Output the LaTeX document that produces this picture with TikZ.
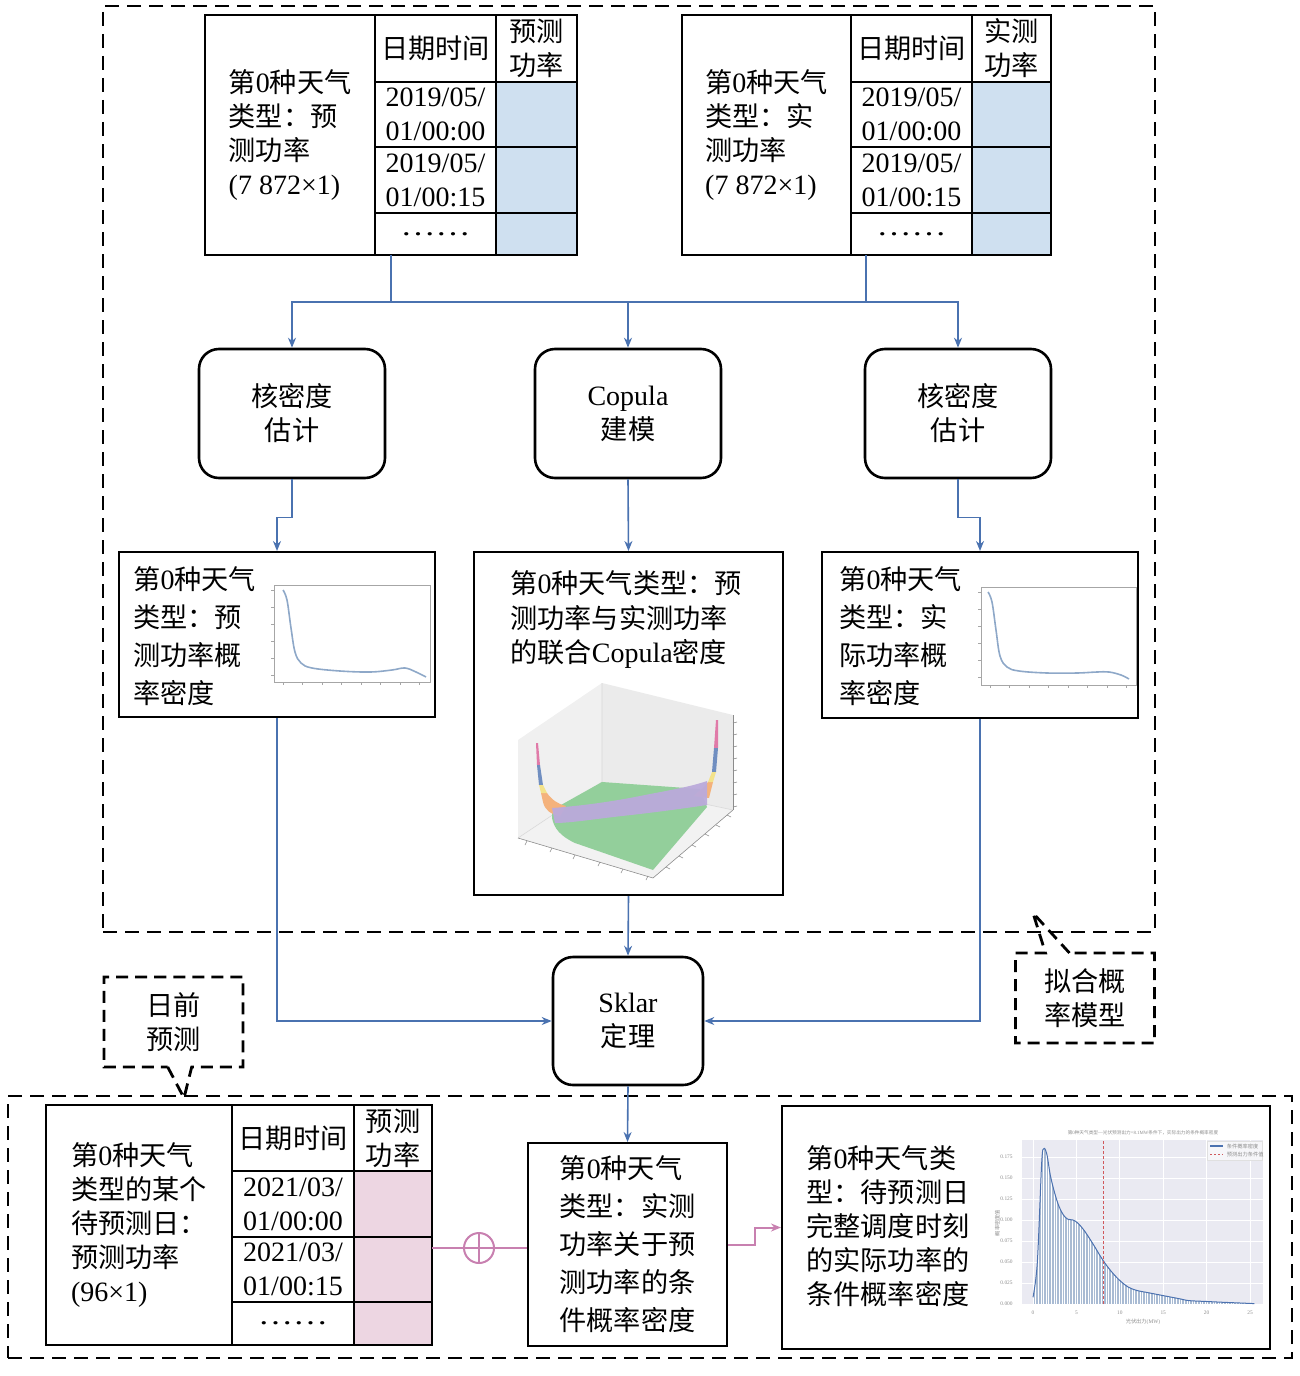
\documentclass[tikz,border=0pt]{standalone}
\usepackage{fontspec}
\setmainfont{Liberation Serif}
\newfontfamily\cjk[Scale=0.97]{Noto Sans CJK SC}
\usetikzlibrary{arrows.meta,shapes.callouts}

\XeTeXinterchartokenstate=1
\newXeTeXintercharclass\cjkclass
\newcount\cjkcode
\cjkcode="3000
\loop
  \XeTeXcharclass\cjkcode=\cjkclass
  \advance\cjkcode by 1
\ifnum\cjkcode<"A000 \repeat
\cjkcode="FF00
\loop
  \XeTeXcharclass\cjkcode=\cjkclass
  \advance\cjkcode by 1
\ifnum\cjkcode<"FFF0 \repeat
\XeTeXinterchartoks 0 \cjkclass={\cjk}
\XeTeXinterchartoks 4095 \cjkclass={\cjk}
\XeTeXinterchartoks \cjkclass 0={\rmfamily}
\XeTeXinterchartoks \cjkclass 4095={\rmfamily}

\definecolor{linkblue}{HTML}{4A72B0}
\definecolor{linkpink}{HTML}{C880B0}
\definecolor{cellblue}{HTML}{CFE0F0}
\definecolor{cellpink}{HTML}{EDD6E2}
\definecolor{curveblue}{HTML}{8EA8C8}
\definecolor{seabg}{HTML}{EAEAF2}
\definecolor{seabar}{HTML}{A9BBD3}
\definecolor{sealine}{HTML}{4C72B0}
\definecolor{seared}{HTML}{D0585C}
\definecolor{surfgreen}{HTML}{93CF9B}
\definecolor{surfpurple}{HTML}{BBAADB}
\definecolor{surforange}{HTML}{F4B27C}
\definecolor{surfpink}{HTML}{E07AA8}
\definecolor{surfyellow}{HTML}{F3E28A}

\begin{document}
\begin{tikzpicture}[x=0.5pt,y=-0.5pt,
  font=\fontsize{14}{17}\selectfont,
  wide/.style={font=\fontsize{14}{19}\selectfont},
  cell/.style={draw,line width=1.2pt,inner sep=0pt,align=center},
  lab/.style={draw,line width=.8pt,inner sep=0pt,align=left},
  proc/.style={draw,line width=1.3pt,rounded corners=10pt,minimum width=93pt,minimum height=64.5pt,align=center},
  panel/.style={draw,line width=1pt,inner sep=0pt},
  txt/.style={inner sep=0pt,align=left,anchor=west},
  group/.style={draw,dash pattern=on 7pt off 4pt,line width=1.4pt,inner sep=0pt},
  note/.style={rectangle callout,draw,dash pattern=on 6pt off 3.5pt,line width=1.4pt,inner sep=0pt,minimum width=69.5pt,minimum height=45pt,align=center,callout pointer width=12pt},
  link/.style={draw=linkblue,line width=.8pt},
  plink/.style={draw=linkpink,line width=1pt},
  flow/.style={-{Stealth[length=5pt,width=4pt]}},
  tinylabel/.style={font=\fontsize{2.7}{3}\selectfont,text=black!45,inner sep=0pt}]

\useasboundingbox (0,0) rectangle (1300,1376);

\node[group,minimum width=526pt,minimum height=463pt] (fitgroup) at (629,469) {};
\node[group,minimum width=642pt,minimum height=131pt] (predgroup) at (650,1227) {};

\node[note,callout absolute pointer={(184,1098)}] (dayahead) at (173.5,1022) {日前\\预测};
\node[note,callout absolute pointer={(1033,913)}] (fitnote) at (1085,998) {拟合概\\率模型};

\node[lab,minimum width=85pt,minimum height=120pt] (fclab) at (290,135) {第0种天气\\类型：预\\测功率\\(7 872×1)};
\node[cell,minimum width=60.5pt,minimum height=33.5pt] (fchead1) at (435.5,48.5) {日期时间};
\node[cell,minimum width=40.5pt,minimum height=33.5pt] (fchead2) at (536.5,48.5) {预测\\功率};
\node[cell,minimum width=60.5pt,minimum height=32.5pt] (fcrow1) at (435.5,114.5) {2019/05/\\01/00:00};
\node[cell,fill=cellblue,minimum width=40.5pt,minimum height=32.5pt] (fcval1) at (536.5,114.5) {};
\node[cell,minimum width=60.5pt,minimum height=33pt] (fcrow2) at (435.5,180) {2019/05/\\01/00:15};
\node[cell,fill=cellblue,minimum width=40.5pt,minimum height=33pt] (fcval2) at (536.5,180) {};
\node[cell,minimum width=60.5pt,minimum height=21pt] (fcrow3) at (435.5,234) {\scalebox{1.25}[1]{……}};
\node[cell,fill=cellblue,minimum width=40.5pt,minimum height=21pt] (fcval3) at (536.5,234) {};

\node[lab,minimum width=84.5pt,minimum height=120pt] (aclab) at (766.5,135) {第0种天气\\类型：实\\测功率\\(7 872×1)};
\node[cell,minimum width=60.5pt,minimum height=33.5pt] (achead1) at (911.5,48.5) {日期时间};
\node[cell,minimum width=39.5pt,minimum height=33.5pt] (achead2) at (1011.5,48.5) {实测\\功率};
\node[cell,minimum width=60.5pt,minimum height=32.5pt] (acrow1) at (911.5,114.5) {2019/05/\\01/00:00};
\node[cell,fill=cellblue,minimum width=39.5pt,minimum height=32.5pt] (acval1) at (1011.5,114.5) {};
\node[cell,minimum width=60.5pt,minimum height=33pt] (acrow2) at (911.5,180) {2019/05/\\01/00:15};
\node[cell,fill=cellblue,minimum width=39.5pt,minimum height=33pt] (acval2) at (1011.5,180) {};
\node[cell,minimum width=60.5pt,minimum height=21pt] (acrow3) at (911.5,234) {\scalebox{1.25}[1]{……}};
\node[cell,fill=cellblue,minimum width=39.5pt,minimum height=21pt] (acval3) at (1011.5,234) {};

\node[proc] (kdefc) at (292,413.5) {核密度\\估计};
\node[proc] (copula) at (628,413.5) {Copula\\建模};
\node[proc] (kdeac) at (958,413.5) {核密度\\估计};

\node[panel,minimum width=158pt,minimum height=82.5pt] (fcpdf) at (277,634.5) {};
\node[txt,wide] (fcpdftext) at (133,636.5) {第0种天气\\类型：预\\测功率概\\率密度};
\node[panel,minimum width=154.5pt,minimum height=171.5pt] (copdens) at (628.5,723.5) {};
\node[txt,font=\fontsize{14}{17.25}\selectfont] (copdenstext) at (510,619.5) {第0种天气类型：预\\测功率与实测功率\\的联合Copula密度};
\node[panel,minimum width=158pt,minimum height=83pt] (acpdf) at (980,635) {};
\node[txt,wide] (acpdftext) at (839,636.5) {第0种天气\\类型：实\\际功率概\\率密度};

\node[proc,minimum width=75pt,minimum height=64pt] (sklar) at (628,1021) {Sklar\\定理};

\node[lab,minimum width=93pt,minimum height=120pt] (dalab) at (139,1225) {第0种天气\\类型的某个\\待预测日：\\预测功率\\(96×1)};
\node[cell,minimum width=61pt,minimum height=33pt] (dahead1) at (293,1138) {日期时间};
\node[cell,minimum width=39pt,minimum height=33pt] (dahead2) at (393,1138) {预测\\功率};
\node[cell,minimum width=61pt,minimum height=33pt] (darow1) at (293,1204) {2021/03/\\01/00:00};
\node[cell,fill=cellpink,minimum width=39pt,minimum height=33pt] (daval1) at (393,1204) {};
\node[cell,minimum width=61pt,minimum height=32.5pt] (darow2) at (293,1269.5) {2021/03/\\01/00:15};
\node[cell,fill=cellpink,minimum width=39pt,minimum height=32.5pt] (daval2) at (393,1269.5) {};
\node[cell,minimum width=61pt,minimum height=21.5pt] (darow3) at (293,1323.5) {\scalebox{1.25}[1]{……}};
\node[cell,fill=cellpink,minimum width=39pt,minimum height=21.5pt] (daval3) at (393,1323.5) {};

\node[draw=linkpink,line width=1pt,circle,minimum size=15pt,inner sep=0pt,
  path picture={\draw[linkpink,line width=1pt] (path picture bounding box.north) -- (path picture bounding box.south)
    (path picture bounding box.west) -- (path picture bounding box.east);}] (oplus) at (479,1248) {};
\node[panel,wide,align=left,minimum width=99.5pt,minimum height=101.5pt] (condpdf) at (627.5,1244.5) {第0种天气\\类型：实测\\功率关于预\\测功率的条\\件概率密度};
\node[panel,minimum width=244pt,minimum height=121.5pt] (result) at (1026,1227.5) {};
\node[txt] (resulttext) at (806,1226.5) {第0种天气类\\型：待预测日\\完整调度时刻\\的实际功率的\\条件概率密度};

\coordinate (fctab) at (391,255);
\coordinate (actab) at (866,255);
\coordinate (busl) at (292,302);
\coordinate (busr) at (958,302);
\coordinate (dayin) at (432,1248);

\draw[link,flow] (fctab) |- (busl) -- (kdefc.north);
\draw[link,flow] (fctab) |- (busr) -- (kdeac.north);
\draw[link] (actab) |- (busl);
\draw[link,flow] (copula.north |- busl) -- (copula.north);
\draw[link,flow] (kdefc.south) -- ++(0,38) -| (fcpdf.north);
\draw[link,flow] (kdeac.south) -- ++(0,38) -| (acpdf.north);
\draw[link,flow] (copula.south) -- (copdens.north);
\draw[link,flow] (fcpdf.south) |- (sklar.west);
\draw[link,flow] (acpdf.south) |- (sklar.east);
\draw[link,flow] (copdens.south) -- (sklar.north);
\draw[link,flow] (sklar.south) -- (condpdf.north);
\draw[plink] (dayin) -- (oplus) -- (oplus -| condpdf.west);
\draw[plink,flow] (condpdf.east) -- ++(27,0) |- (result.west);

\begin{scope}[line width=.4pt]
\draw[black!35] (274,585) rectangle (430,682);
\foreach \k in {0,...,7} \draw[black!35] (283+19.5*\k,682) -- ++(0,3);
\foreach \k in {0,...,5} \draw[black!35] (274,590+17*\k) -- ++(-3,0);
\draw[curveblue,line width=.8pt] plot[smooth,tension=.6] coordinates {(283,590) (287,600) (291,628) (295,652) (301,663) (312,668) (340,671) (370,672) (392,670) (405,668) (416,672) (426,677)};
\end{scope}
\begin{scope}[shift={(707,2)},line width=.4pt]
\draw[black!35] (274,585) rectangle (429,683);
\foreach \k in {0,...,7} \draw[black!35] (283+19.5*\k,683) -- ++(0,3);
\foreach \k in {0,...,5} \draw[black!35] (274,590+17*\k) -- ++(-3,0);
\draw[curveblue,line width=.8pt] plot[smooth,tension=.6] coordinates {(281,590) (285,600) (289,628) (293,654) (300,665) (312,669) (340,671) (370,671) (390,670) (402,670) (414,673) (422,677)};
\end{scope}

\begin{scope}[line width=.3pt]
\fill[black!6] (518,740) -- (602,683) -- (602,782) -- (518,838) -- cycle;
\fill[black!8] (602,683) -- (733,715) -- (733,810) -- (602,782) -- cycle;
\fill[black!5] (518,838) -- (602,782) -- (733,810) -- (653,878) -- cycle;
\draw[black!15] (602,683) -- (602,782) (518,838) -- (602,782) -- (733,810);
\fill[surfgreen] (552,810) -- (602,782) -- (700,789) -- (707,807) -- (653,870) -- (575,843) .. controls (560,836) and (554,828) .. (552,818) -- cycle;
\fill[surforange] (541,793) -- (547,793) .. controls (552,800) and (558,804) .. (566,806) -- (560,816) .. controls (550,814) and (545,810) .. (543,802) -- cycle;
\fill[surforange] (708,782) -- (713,782) -- (709,798) -- (694,796) .. controls (700,790) and (705,787) .. (708,782) -- cycle;
\fill[surfpurple,opacity=.95] (552,808) .. controls (580,806) and (610,802) .. (640,796) .. controls (665,791) and (690,787) .. (707,781) -- (707,805) .. controls (680,809) and (650,813) .. (622,816) .. controls (595,819) and (570,823) .. (555,823) -- cycle;
\fill[surfpink] (536,743) -- (538,743) -- (540,765) -- (537,765) -- cycle;
\fill[sealine!80] (537,765) -- (540,765) -- (543,785) -- (539,785) -- cycle;
\fill[surfyellow] (539,785) -- (543,785) -- (547,793) -- (541,793) -- cycle;
\fill[surfpink] (716,720) -- (718,720) -- (718,748) -- (714,748) -- cycle;
\fill[sealine!80] (714,748) -- (718,748) -- (716,772) -- (712,772) -- cycle;
\fill[surfyellow] (712,772) -- (716,772) -- (713,782) -- (708,782) -- cycle;
\draw[black!45] (733,715) -- (733,810);
\foreach \k in {0,...,7} \draw[black!45] (733,723+12*\k) -- ++(4,-1);
\draw[black!45] (518,838) -- (653,878) -- (733,810);
\foreach \px/\py in {527/841,552/848,575/855,600/862,623/869,648/876} \draw[black!45] (\px,\py) -- ++(-2,4);
\foreach \px/\py in {666/867,679/856,692/845,705/834,716/825,727/815} \draw[black!45] (\px,\py) -- ++(4,2);
\end{scope}

\begin{scope}[shift={(1033,1304)},x=4.34pt,y=420pt]
\fill[seabg] (-1.27,0) rectangle (26.5,0.195);
\foreach \v in {0,5,...,25} \draw[white,line width=.5pt] (\v,0) -- (\v,0.195);
\foreach \d in {0.025,0.05,0.075,0.1,0.125,0.15,0.175} \draw[white,line width=.5pt] (-1.27,\d) -- (26.5,\d);
\begin{scope}
\clip (0,0) -- plot[smooth,tension=.55] coordinates {(0,0.008) (0.5,0.05) (1,0.168) (1.25,0.185) (1.6,0.178) (2,0.153) (2.5,0.132) (3,0.116) (3.5,0.106) (4,0.101) (4.6,0.1) (5.2,0.096) (6,0.086) (7,0.07) (8,0.053) (9,0.039) (10,0.028) (11,0.02) (12,0.016) (13,0.014) (14,0.012) (15,0.01) (16,0.008) (17,0.006) (18,0.004) (20,0.003) (22,0.002) (25.5,0.0005)} -- (25.5,0) -- cycle;
\fill[seabar] (0,0) rectangle (26,0.2);
\foreach \v in {0,0.3,...,25.5} \draw[white,line width=.15pt] (\v,0) -- (\v,0.2);
\end{scope}
\draw[sealine,line width=.5pt] plot[smooth,tension=.55] coordinates {(0,0.008) (0.5,0.05) (1,0.168) (1.25,0.185) (1.6,0.178) (2,0.153) (2.5,0.132) (3,0.116) (3.5,0.106) (4,0.101) (4.6,0.1) (5.2,0.096) (6,0.086) (7,0.07) (8,0.053) (9,0.039) (10,0.028) (11,0.02) (12,0.016) (13,0.014) (14,0.012) (15,0.01) (16,0.008) (17,0.006) (18,0.004) (20,0.003) (22,0.002) (25.5,0.0005)};
\draw[seared,dash pattern=on 1.5pt off 1pt,line width=.5pt] (8.1,0) -- (8.1,0.195);
\draw[black!12,fill=white!55!seabg,line width=.2pt] (20.05,0.171) rectangle (26.4,0.194);
\fill[sealine] (20.4,0.1865) rectangle (21.9,0.1895);
\draw[seared,dash pattern=on 1.2pt off .8pt,line width=.5pt] (20.4,0.1775) -- (21.9,0.1775);
\node[tinylabel,anchor=west] (legkde) at (22.3,0.188) {条件概率密度};
\node[tinylabel,anchor=west] (legcut) at (22.3,0.1775) {预测出力条件值};
\foreach \d [count=\i] in {0.000,0.025,0.050,0.075,0.100,0.125,0.150,0.175} \node[tinylabel,anchor=east] (ytick\i) at (-2.3,\d) {\d};
\foreach \v [count=\i] in {0,5,10,15,20,25} \node[tinylabel] (xtick\i) at (\v,-0.0107) {\v};
\node[tinylabel] (xlab) at (12.67,-0.0214) {光伏出力(MW)};
\node[tinylabel,rotate=90] (ylab) at (-4.1,0.0964) {概率密度值};
\node[tinylabel,font=\fontsize{2.4}{3}\selectfont] (ptitle) at (12.67,0.2036) {第0种天气类型—光伏预测出力=8.1MW条件下，实际出力的条件概率密度};
\end{scope}

\end{tikzpicture}
\end{document}
